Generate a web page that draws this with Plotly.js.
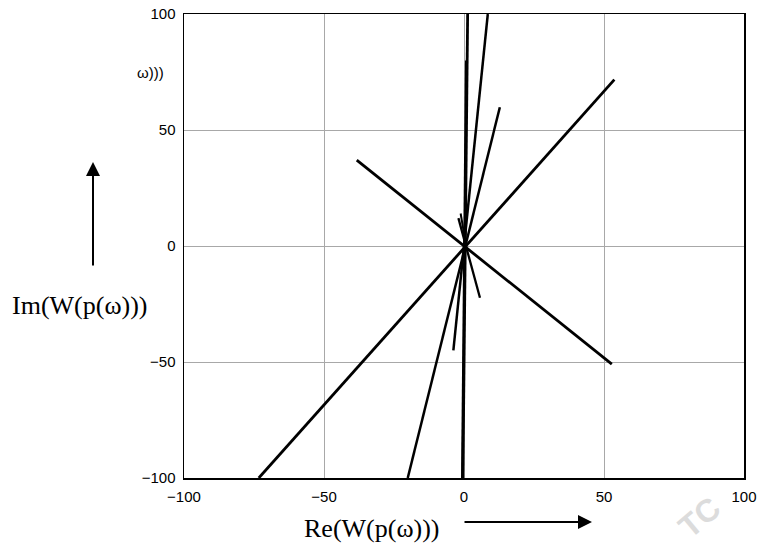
<!DOCTYPE html>
<html>
<head>
<meta charset="utf-8">
<script src="https://cdn.plot.ly/plotly-3.0.1.min.js"></script>
<style>html,body{margin:0;padding:0;background:#fff;}#chart{width:757px;height:545px;}</style>
</head>
<body>
<div id="chart"></div>
<script>
// Nyquist-like plot segments: Re and Im values
var reA = [-73.3, 53.7],  imA = [-100, 71.7];
var reB = [-38.3, 52.8],  imB = [37.0, -50.9];
var reC = [-20.1, 12.8],  imC = [-100, 59.8];
var reD = [-3.8, 8.5],    imD = [-45, 100];
var reE = [1.3, -0.4],    imE = [100, -100];
var reF = [0.8, -0.6],    imF = [80, -100];
var reG = [-2.0, 5.7],    imG = [12, -22.3];
var reH = [-1.2, 0.2],    imH = [14, 4];

var tickVals = [-100, -50, 0, 50, 100];
var tickText = ['\u2212100', '\u221250', '0', '50', '100'];
var xLabel = 'Re(W(p(\u03c9)))';
var yLabel = 'Im(W(p(\u03c9)))';
var cutLabel = '\u03c9)))';

var series = [[reA, imA], [reB, imB], [reC, imC], [reD, imD], [reE, imE], [reF, imF], [reG, imG], [reH, imH]];
var widths = [2.8, 2.8, 2.5, 2.5, 2.8, 2.6, 2.3, 2.0];
var traces = series.map(function (s, i) {
  return {x: s[0], y: s[1], mode: 'lines', type: 'scatter', hoverinfo: 'skip',
          line: {color: '#000', width: widths[i]}, showlegend: false};
});

var axisCommon = {
  range: [-100, 100], tickvals: tickVals, ticktext: tickText,
  showgrid: true, gridcolor: '#a8a8a8', gridwidth: 1, zeroline: false,
  showline: true, mirror: true, linecolor: '#000', linewidth: 1.5,
  ticks: '', tickfont: {family: 'Liberation Sans, Arial, sans-serif', size: 15, color: '#000'},
  fixedrange: true
};

var layout = {
  width: 757, height: 545,
  margin: {l: 184, r: 13, t: 14, b: 67},
  paper_bgcolor: '#fff', plot_bgcolor: '#fff',
  xaxis: Object.assign({}, axisCommon, {ticklabelstandoff: 4}),
  yaxis: Object.assign({}, axisCommon, {ticklabelstandoff: 4}),
  annotations: [
    {xref: 'paper', yref: 'paper', x: -0.1875, y: 0.3707, xanchor: 'center', yanchor: 'middle',
     text: yLabel, showarrow: false,
     font: {family: 'Liberation Serif, Times New Roman, serif', size: 26, color: '#000'}},
    {xref: 'paper', yref: 'paper', x: 0.3357, y: -0.1078, xanchor: 'center', yanchor: 'middle',
     text: xLabel, showarrow: false,
     font: {family: 'Liberation Serif, Times New Roman, serif', size: 26, color: '#000'}},
    {xref: 'paper', yref: 'paper', x: -0.0875, y: 0.873, xanchor: 'left', yanchor: 'middle',
     text: cutLabel, showarrow: false,
     font: {family: 'Liberation Sans, Arial, sans-serif', size: 15, color: '#000'}},
    {xref: 'paper', yref: 'paper', x: -0.1625, y: 0.681, ax: 0, ay: 105, text: '',
     showarrow: true, arrowhead: 2, arrowsize: 1.4, arrowwidth: 2, arrowcolor: '#000'},
    {xref: 'paper', yref: 'paper', x: 0.7286, y: -0.0948, ax: -129, ay: 0, text: '',
     showarrow: true, arrowhead: 2, arrowsize: 1.4, arrowwidth: 2, arrowcolor: '#000'},
    {xref: 'paper', yref: 'paper', x: 0.921, y: -0.084, xanchor: 'center', yanchor: 'middle',
     text: '<b>TC</b>', showarrow: false,
     textangle: -40, font: {family: 'Liberation Sans, Arial, sans-serif', size: 32, color: '#dcdcdc'}}
  ]
};

Plotly.newPlot('chart', traces, layout, {displayModeBar: false, staticPlot: true});
</script>
</body>
</html>
